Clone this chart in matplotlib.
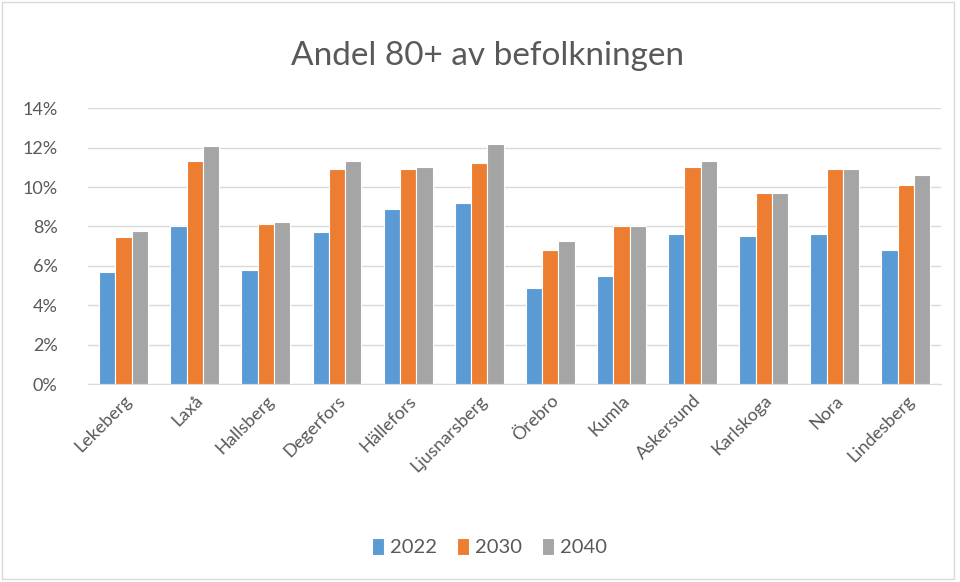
import numpy as np
import matplotlib.pyplot as plt
from matplotlib.patches import Rectangle
from matplotlib.ticker import PercentFormatter

plt.rcParams['font.family'] = ['Lato', 'DejaVu Sans']

kommuner = ["Lekeberg", "Laxå", "Hallsberg", "Degerfors", "Hällefors", "Ljusnarsberg",
            "Örebro", "Kumla", "Askersund", "Karlskoga", "Nora", "Lindesberg"]
years = ["2022", "2030", "2040"]
v2022 = [5.7, 8.0, 5.8, 7.7, 8.9, 9.2, 4.9, 5.5, 7.6, 7.5, 7.6, 6.8]
v2030 = [7.45, 11.3, 8.15, 10.9, 10.9, 11.2, 6.8, 8.0, 11.0, 9.7, 10.9, 10.1]
v2040 = [7.75, 12.1, 8.25, 11.3, 11.0, 12.2, 7.25, 8.0, 11.3, 9.7, 10.9, 10.6]
colors = ["#5B9BD5", "#ED7D31", "#A5A5A5"]

TXT = "#595959"

fig = plt.figure(figsize=(9.6, 5.82), dpi=100)
ax = fig.add_axes([0.0917, 0.340, 0.889, 0.474])

x = np.arange(len(kommuner))
step = 0.229
for i, (vals, c, lab) in enumerate(zip([v2022, v2030, v2040], colors, years)):
    ax.bar(x + (i - 1) * step, vals, width=step, color=c, edgecolor="white",
           linewidth=0.8, label=lab, zorder=3)

ax.set_xlim(-0.5, len(kommuner) - 0.5)
ax.set_ylim(0, 14)
ax.set_yticks(np.arange(0, 15, 2))
ax.yaxis.set_major_formatter(PercentFormatter(decimals=0))
ax.grid(axis="y", color="#D9D9D9", linewidth=1, zorder=0)
for s in ["top", "right", "left"]:
    ax.spines[s].set_visible(False)
ax.spines["bottom"].set_color("#D9D9D9")
ax.tick_params(axis="both", length=0, colors=TXT, labelsize=13)
ax.tick_params(axis="y", pad=22)
ax.tick_params(axis="x", pad=6)
ax.set_xticks(x)
ax.set_xticklabels(kommuner, rotation=45, ha="right", rotation_mode="anchor")

fig.text(0.508, 0.903, "Andel 80+ av befolkningen", ha="center", va="center",
         fontsize=24, color=TXT)

fig.legend(loc="center", bbox_to_anchor=(0.51, 0.06), ncol=3, frameon=False,
           fontsize=14.5, handlelength=0.6, handleheight=0.9, handletextpad=0.3,
           columnspacing=1.0, labelcolor=TXT)

fig.patches.append(Rectangle((0.002, 0.006), 0.992, 0.99, transform=fig.transFigure,
                             fill=False, edgecolor="#D9D9D9", linewidth=1))

fig.savefig("out.png", dpi=100)
